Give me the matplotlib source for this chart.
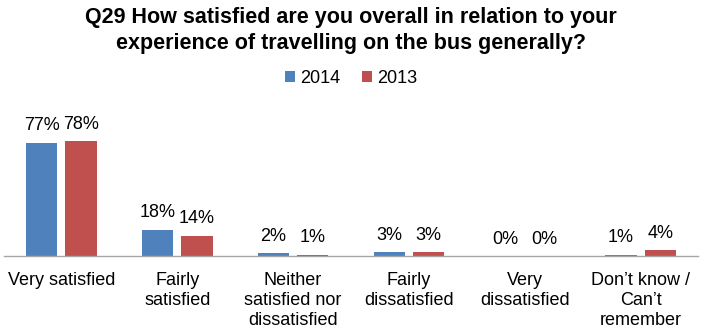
import matplotlib
matplotlib.use("Agg")
import matplotlib.pyplot as plt
import numpy as np

categories = ["Very satisfied", "Fairly\nsatisfied", "Neither\nsatisfied nor\ndissatisfied",
              "Fairly\ndissatisfied", "Very\ndissatisfied", "Don\u2019t know /\nCan\u2019t\nremember"]
values_2014 = [77, 18, 2, 3, 0, 1]
values_2013 = [78, 14, 1, 3, 0, 4]
series_names = ["2014", "2013"]
colors = ["#4F81BD", "#C0504D"]

plt.rcParams['font.family'] = ['Liberation Sans', 'DejaVu Sans']

fig = plt.figure(figsize=(7.02, 3.35), dpi=100)
ax = fig.add_axes([0.005, 0.235, 0.99, 0.44])

x = np.arange(len(categories))
w = 0.27
off = 0.17
b1 = ax.bar(x - off, values_2014, w, color=colors[0], label=series_names[0])
b2 = ax.bar(x + off, values_2013, w, color=colors[1], label=series_names[1])

for bars, vals in ((b1, values_2014), (b2, values_2013)):
    for rect, v in zip(bars, vals):
        ax.annotate(f"{v}%", (rect.get_x() + rect.get_width() / 2, rect.get_height()),
                    xytext=(0, 6), textcoords="offset points", ha="center", va="bottom",
                    fontsize=13, color="#000000")

ax.set_xlim(-0.5, len(categories) - 0.5)
ax.set_ylim(0, 100)
ax.set_yticks([])
ax.set_xticks(x)
ax.set_xticklabels(categories, fontsize=13, linespacing=1.25)
ax.tick_params(axis='x', length=0, pad=11)
for s in ("top", "right", "left"):
    ax.spines[s].set_visible(False)
ax.spines["bottom"].set_color("#A6A6A6")
ax.spines["bottom"].set_linewidth(1)

fig.text(0.5, 0.98, "Q29 How satisfied are you overall in relation to your\nexperience of travelling on the bus generally?",
         ha="center", va="top", fontsize=15.5, fontweight="bold", linespacing=1.3)

fig.legend(handles=[b1, b2], labels=series_names, loc="center", bbox_to_anchor=(0.5, 0.765),
           ncol=2, frameon=False, fontsize=13, handlelength=0.55, handleheight=0.55,
           handletextpad=0.3, columnspacing=1.2)

fig.savefig("out.png", dpi=100)
